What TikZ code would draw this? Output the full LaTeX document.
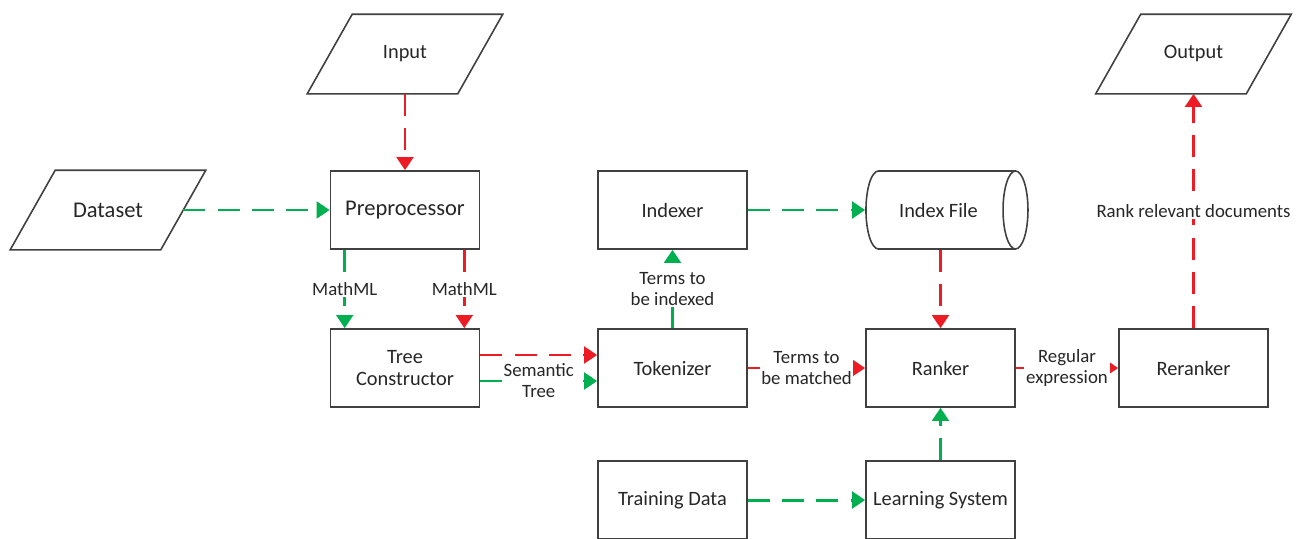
\documentclass[tikz,border=0pt]{standalone}
\usepackage{fontspec}
\setmainfont{Carlito}
\usepackage{tikz}
\usetikzlibrary{arrows.meta,shapes.geometric}
\definecolor{flowred}{RGB}{237,28,36}
\definecolor{flowgreen}{RGB}{0,176,80}

\begin{document}
\begin{tikzpicture}[
    box/.style={draw=black!75,line width=0.9pt,minimum width=2.98cm,minimum height=1.56cm,
      inner sep=1pt,align=center,text=black!85,font=\fontsize{11.6}{12.8}\selectfont},
    io/.style={box,draw=none},
    big/.style={font=\fontsize{12.8}{14}\selectfont},
    lbl/.style={fill=white,inner sep=1pt,align=center,text=black!85,font=\fontsize{10.7}{12}\selectfont},
    flow/.style={line width=1.7pt,dash pattern=on 12.5pt off 7pt,-{Triangle[length=7.5pt,width=9.5pt]}},
    redflow/.style={flow,color=flowred},
    greenflow/.style={flow,color=flowgreen}
  ]
      \useasboundingbox (0,0) rectangle (26.08,-10.76);

      \node[io] (in) at (8.1,-1.08) {Input};
      \node[io] (out) at (23.87,-1.08) {Output};
      \node[io,big] (ds) at (2.16,-4.2) {Dataset};

      \node[box,big] (pre) at (8.1,-4.2) {Preprocessor};
      \node[box] (idx) at (13.45,-4.2) {Indexer};
      \node[box,cylinder,shape aspect=1.4,minimum width=1.56cm,minimum height=3.24cm] (ifile) at (18.77,-4.2) {Index File};

      \node[box] (tc) at (8.1,-7.36) {Tree\\Constructor};
      \node[box] (tok) at (13.45,-7.36) {Tokenizer};
      \node[box] (rk) at (18.81,-7.36) {Ranker};
      \node[box] (rr) at (23.87,-7.36) {Reranker};

      \node[box] (td) at (13.45,-10.0) {Training Data};
      \node[box] (ls) at (18.81,-10.0) {Learning System};

      \foreach \n in {in,out,ds}
        \draw[draw=black!75,line width=0.9pt] ([xshift=-0.45cm]\n.south west) -- ([xshift=-0.45cm]\n.south east)
          -- ([xshift=0.45cm]\n.north east) -- ([xshift=0.45cm]\n.north west) -- cycle;

      \draw[redflow](in.south) -- (pre.north);
      \draw[greenflow](ds.east) -- (pre.west);

      \draw[greenflow]([xshift=0.3cm]pre.south west) -- node[lbl]{MathML} ([xshift=0.3cm]tc.north west);
      \draw[redflow]([xshift=-0.32cm]pre.south east) -- node[lbl]{MathML} ([xshift=-0.32cm]tc.north east);

      \draw[redflow]([yshift=0.26cm]tc.east) -- ([yshift=0.26cm]tok.west);
      \draw[greenflow]([yshift=-0.26cm]tc.east) -- node[lbl]{Semantic\\Tree} ([yshift=-0.26cm]tok.west);

      \draw[greenflow](tok.north) -- node[lbl]{Terms to\\be indexed} (idx.south);
      \draw[greenflow](idx.east) -- (ifile.west);
      \draw[redflow](rk.north |- ifile.south) -- (rk.north);

      \draw[redflow](tok.east) -- node[lbl]{Terms to\\be matched} (rk.west);
      \draw[redflow](rk.east) -- node[lbl]{Regular\\expression} (rr.west);
      \draw[redflow](rr.north) -- node[lbl]{Rank relevant documents} (out.south);

      \draw[greenflow](td.east) -- (ls.west);
      \draw[greenflow](ls.north) -- (rk.south);
\end{tikzpicture}
\end{document}
